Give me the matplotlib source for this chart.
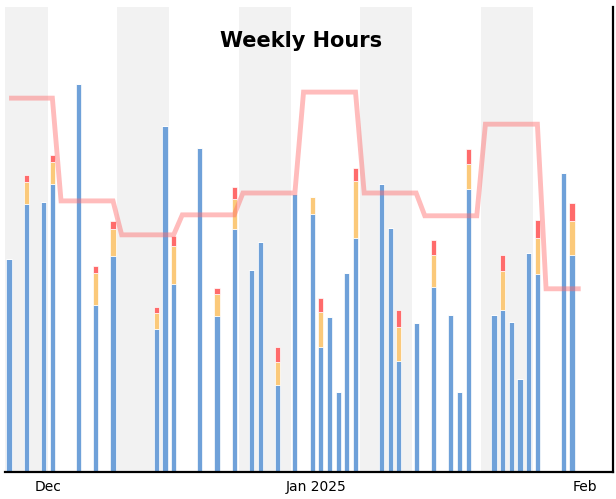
import matplotlib
matplotlib.use("Agg")
import matplotlib.pyplot as plt
import matplotlib.dates as mdates
import pandas as pd

BLUE = "#6fa1d9"; ORANGE = "#fbc97a"; RED = "#ff6b6b"; BAND = "#f2f2f2"

# ---- daily hours (stacked) ----
DAYS = ["2024-11-26", "2024-11-28", "2024-11-30", "2024-12-01", "2024-12-04",
        "2024-12-06", "2024-12-08", "2024-12-13", "2024-12-14", "2024-12-15",
        "2024-12-18", "2024-12-20", "2024-12-22", "2024-12-24", "2024-12-25",
        "2024-12-27", "2024-12-29", "2024-12-31", "2025-01-01", "2025-01-02",
        "2025-01-03", "2025-01-04", "2025-01-05", "2025-01-08", "2025-01-09",
        "2025-01-10", "2025-01-12", "2025-01-14", "2025-01-16", "2025-01-17",
        "2025-01-18", "2025-01-21", "2025-01-22", "2025-01-23", "2025-01-24",
        "2025-01-25", "2025-01-26", "2025-01-29", "2025-01-30"]
BASE = [4.58, 5.76, 5.81, 6.19, 8.34, 3.59, 4.65, 3.08, 7.44, 4.04,
        6.97, 3.35, 5.23, 4.34, 4.95, 1.87, 5.98, 5.55, 2.69, 3.33,
        1.72, 4.28, 5.03, 6.19, 5.25, 2.39, 3.20, 3.98, 3.38, 1.72,
        6.09, 3.38, 3.48, 3.23, 2.00, 4.71, 4.26, 6.43, 4.67]
EXTRA = [0, 0.47, 0, 0.47, 0, 0.69, 0.58, 0.34, 0, 0.82,
         0, 0.47, 0.65, 0, 0, 0.49, 0, 0.37, 0.75, 0,
         0, 0, 1.23, 0, 0, 0.73, 0, 0.69, 0, 0,
         0.54, 0, 0.84, 0, 0, 0, 0.77, 0, 0.73]
OVER = [0, 0.15, 0, 0.15, 0, 0.15, 0.17, 0.13, 0, 0.22,
        0, 0.13, 0.24, 0, 0, 0.32, 0, 0, 0.30, 0,
        0, 0, 0.28, 0, 0, 0.37, 0, 0.32, 0, 0,
        0.32, 0, 0.34, 0, 0, 0, 0.39, 0, 0.39]

# ---- weekly target (per day) ----
WEEKS = ["2024-11-25", "2024-12-02", "2024-12-09", "2024-12-16", "2024-12-23",
         "2024-12-30", "2025-01-06", "2025-01-13", "2025-01-20", "2025-01-27"]
TARGET = [8.04, 5.83, 5.10, 5.53, 6.00, 8.17, 6.00, 5.51, 7.48, 3.94]
FIRST, LAST = "2024-11-26", "2025-01-31"

half = pd.Timedelta(hours=12)
d = pd.to_datetime(DAYS) + half
x = mdates.date2num(d)

fig = plt.figure(figsize=(6.16, 4.99), dpi=100)
ax = fig.add_axes([5/616, 27/499, 608/616, 465/499])

# alternating week shading
for w in pd.to_datetime(WEEKS)[::2]:
    ax.axvspan(mdates.date2num(w), mdates.date2num(w + pd.Timedelta(days=6)),
               color=BAND, lw=0, zorder=0)

w = 0.6
ax.bar(x, BASE, w, color=BLUE, edgecolor="white", linewidth=0.5, zorder=2)
ax.bar(x, EXTRA, w, bottom=BASE, color=ORANGE, edgecolor="white", linewidth=0.5, zorder=2)
bot2 = [a + b for a, b in zip(BASE, EXTRA)]
ax.bar(x, OVER, w, bottom=bot2, color=RED, edgecolor="white", linewidth=0.5, zorder=2)

# target line: each day carries its week's target
span = pd.date_range(FIRST, LAST)
wk = dict(zip(pd.to_datetime(WEEKS), TARGET))
ty = [wk[t - pd.Timedelta(days=t.weekday())] for t in span]
ax.plot(mdates.date2num(span + half), ty, color="#ff6b6b", alpha=0.45, lw=3.5,
        solid_joinstyle="miter", solid_capstyle="butt", zorder=3)

d0 = mdates.date2num(pd.Timestamp("2024-12-01"))
ax.set_xlim(d0 - 4.97, d0 + 65.23)
ax.set_ylim(0, 10)
ax.set_xticks([mdates.date2num(pd.Timestamp(s)) for s in ("2024-12-01", "2025-01-01", "2025-02-01")])
ax.set_xticklabels(["Dec", "Jan 2025", "Feb"], fontsize=10)
ax.tick_params(axis="x", length=0, pad=6)
ax.set_yticks([])
for s in ("top", "left"):
    ax.spines[s].set_visible(False)
for s in ("right", "bottom"):
    ax.spines[s].set_linewidth(1.6)
    ax.spines[s].set_color("black")

ax.text((301-5)/608, (472-41)/465, "Weekly Hours", transform=ax.transAxes,
        ha="center", va="center", fontsize=15, fontweight="bold", zorder=4)

fig.savefig("out.png", dpi=100)
